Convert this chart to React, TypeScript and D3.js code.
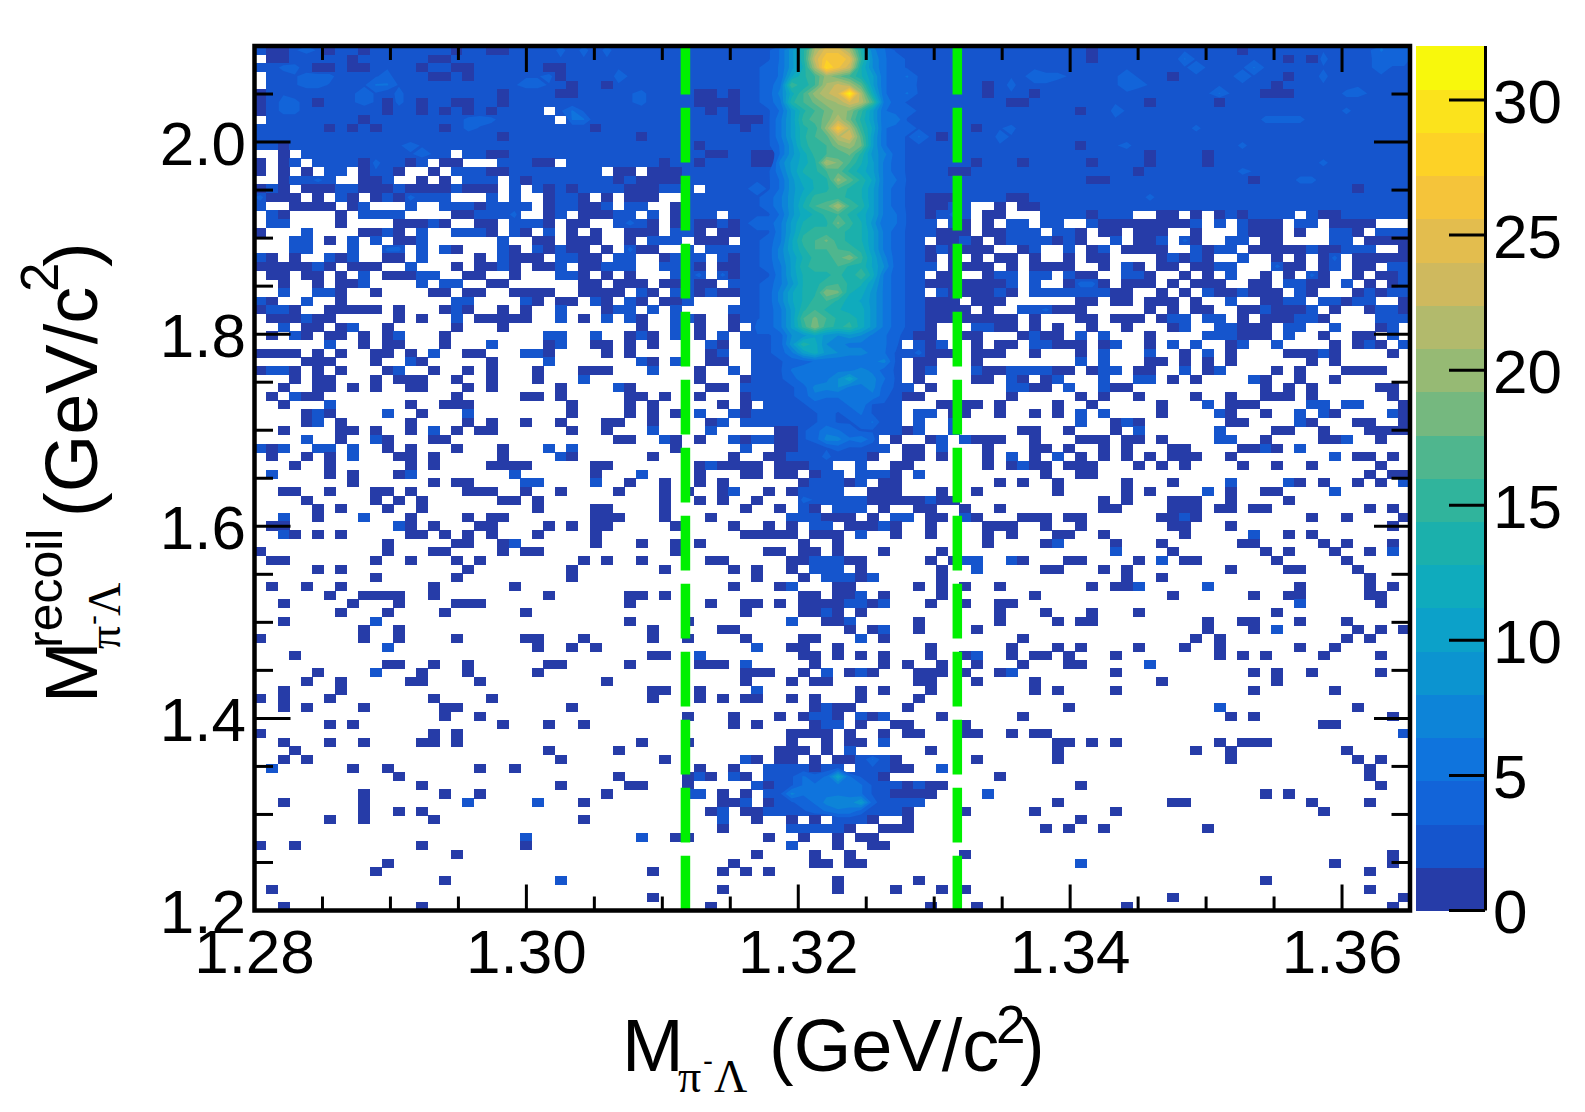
import React from 'react';
import * as d3 from 'd3';

const WIDTH = 1585;
const HEIGHT = 1112;
const BINS = 100;
const margin = { left: 254.5, right: 1410, top: 46, bottom: 910.5 };

const xDomain = [1.28, 1.365];
const yDomain = [1.2, 2.1];
const zMax = 32;
const xTickLabels = ['1.28', '1.30', '1.32', '1.34', '1.36'];
const yTickLabels = ['1.2', '1.4', '1.6', '1.8', '2.0'];
const zTickLabels = ['0', '5', '10', '15', '20', '25', '30'];
const cutLines = [1.3117, 1.3317];

// 20 palette bands of the colour bar, bottom to top
const bandColors = [
  '#263ca8', '#1555cd', '#1264d9', '#0f74dd', '#0d84d8', '#0c94d0', '#0ca1c9', '#0fabbd', '#1bb0ac', '#30b49c',
  '#4fb68e', '#75b87f', '#96ba74', '#b2ba6c', '#cfb95e', '#e3bd4e', '#f5c43a', '#fdd226', '#fbe31c', '#f8f80c',
];

// rows 0-31 from the top, columns 0-41 (bin counts, groups only for reading)
const leftRows = [
  '2113431231 2222222122 1122224242 4222 22222222',
  '0112223312 2222211222 2223223232 3222 22222222',
  '2244211211 2322132112 2222211222 2332 22222222',
  '0223444222 3422211212 2223341222 2432 22332223',
  '0233443223 5532222222 2234432122 1322 22223222',
  '1232222234 3242222222 2122221122 2234 22221121',
  '1244212234 3142122112 2122222222 2234 22221111',
  '1244222222 2122121212 1222203532 2222 22222121',
  '0222222221 2222222244 4222230552 2222 22222221',
  '2222221212 1222221243 2222222221 2222 22222222',
  '2322222222 2222222222 2122222222 2221 22332222',
  '2212222222 2234322222 2232222222 2332 22221222',
  '0010222222 2223432022 1122222222 2222 22222112',
  '1012022221 4221201100 0222110222 2222 21221222',
  '1010102201 3210010222 1122222222 0110 11122222',
  '0012242001 1200101022 2021222222 2121 11122222',
  '1210111221 1121111211 1020212122 2211 12220222',
  '4111010210 1214222000 2020012210 1011 10022222',
  '2001111012 0002002221 2222012211 2032 00122222',
  '0210000102 2220000112 2240012011 1220 20122202',
  '0220000100 0011121001 1022210110 0242 10121121',
  '1000200001 1210200222 1021020101 0011 10221011',
  '0002201020 2011200000 0200110111 0010 22201110',
  '0002200020 0440202100 0210312110 1041 10020222',
  '2101002120 0110200001 0211102211 0220 01222021',
  '1111131011 1002000101 1210112011 2220 02221011',
  '0110110102 0111220011 0010002210 1010 00224041',
  '0010010112 0000202200 1100000011 0111 01121102',
  '0020022100 1000011011 0011110011 1102 10221211',
  '2100200100 0000000220 0002101102 1021 01120000',
  '1221001111 1010001210 0101002000 1220 20200002',
  '0111311000 0010100301 1111002010 2021 00221001',
];

// rows 0-47, columns 42-58: the central band
const coreRows = [
  [3, 3, 3, 5, 9, 14, 21, 25, 25, 21, 14, 7, 5, 3, 3, 3, 3],
  [3, 3, 3, 5, 9, 14, 23, 27, 27, 25, 15, 8, 5, 4, 3, 3, 3],
  [3, 3, 4, 5, 9, 13, 21, 29, 26, 23, 13, 8, 5, 4, 3, 3, 3],
  [3, 3, 4, 5, 11, 14, 16, 20, 18, 16, 13, 10, 5, 4, 5, 3, 3],
  [3, 3, 4, 6, 16, 13, 16, 21, 23, 21, 17, 10, 5, 4, 4, 3, 3],
  [3, 3, 4, 7, 12, 16, 20, 22, 24, 31, 21, 12, 5, 4, 5, 3, 3],
  [3, 3, 4, 6, 14, 16, 18, 20, 21, 24, 22, 16, 6, 4, 3, 3, 3],
  [3, 3, 3, 5, 10, 14, 16, 18, 20, 19, 15, 10, 5, 4, 4, 3, 3],
  [1, 1, 3, 6, 10, 15, 17, 18, 22, 18, 14, 10, 5, 6, 3, 3, 3],
  [1, 2, 3, 6, 10, 14, 15, 20, 27, 22, 15, 11, 5, 4, 4, 3, 3],
  [3, 3, 3, 6, 10, 14, 16, 17, 22, 24, 17, 10, 5, 4, 3, 5, 3],
  [3, 3, 3, 5, 9, 14, 15, 16, 19, 20, 18, 10, 5, 4, 3, 3, 3],
  [2, 1, 1, 5, 9, 12, 15, 16, 16, 18, 14, 9, 7, 4, 3, 3, 3],
  [2, 1, 1, 7, 10, 12, 14, 21, 19, 16, 13, 10, 6, 4, 3, 3, 3],
  [2, 2, 3, 6, 10, 13, 14, 16, 17, 14, 12, 10, 6, 4, 3, 3, 2],
  [2, 3, 3, 5, 9, 12, 13, 14, 20, 17, 14, 11, 6, 5, 3, 3, 3],
  [3, 4, 3, 5, 9, 11, 13, 14, 16, 14, 13, 10, 6, 4, 3, 3, 2],
  [3, 3, 4, 6, 9, 12, 15, 15, 15, 14, 13, 10, 6, 4, 3, 3, 1],
  [2, 3, 4, 6, 9, 13, 16, 17, 21, 16, 14, 10, 6, 4, 3, 3, 1],
  [3, 3, 3, 5, 9, 12, 13, 15, 16, 14, 12, 10, 6, 5, 3, 3, 1],
  [3, 4, 4, 6, 10, 13, 14, 14, 18, 15, 13, 9, 5, 5, 3, 3, 2],
  [3, 3, 3, 6, 10, 14, 15, 15, 15, 14, 13, 10, 6, 4, 3, 3, 2],
  [3, 3, 4, 6, 11, 15, 16, 18, 15, 14, 13, 10, 6, 4, 3, 3, 0],
  [3, 3, 4, 7, 11, 14, 16, 16, 16, 15, 14, 10, 6, 4, 3, 3, 1],
  [2, 3, 4, 7, 10, 13, 15, 15, 17, 19, 15, 11, 7, 4, 3, 3, 1],
  [2, 3, 4, 6, 10, 14, 15, 15, 16, 14, 14, 11, 8, 4, 3, 3, 2],
  [2, 3, 3, 6, 10, 13, 14, 14, 15, 13, 16, 12, 6, 4, 3, 2, 0],
  [2, 3, 4, 6, 9, 13, 14, 15, 16, 14, 13, 10, 6, 4, 3, 2, 1],
  [3, 3, 4, 7, 11, 13, 14, 19, 18, 13, 12, 9, 6, 4, 3, 2, 0],
  [2, 3, 4, 7, 11, 13, 15, 16, 14, 12, 11, 9, 6, 4, 3, 2, 1],
  [2, 3, 4, 6, 10, 14, 16, 14, 13, 12, 12, 9, 6, 4, 3, 2, 1],
  [2, 3, 4, 6, 10, 16, 18, 16, 14, 14, 12, 9, 6, 4, 3, 2, 1],
  [0, 4, 4, 6, 10, 15, 19, 15, 14, 15, 12, 9, 6, 4, 3, 2, 1],
  [3, 3, 3, 4, 8, 9, 11, 9, 8, 9, 8, 6, 5, 4, 2, 1, 1],
  [3, 3, 3, 4, 9, 14, 12, 8, 7, 6, 6, 6, 5, 4, 0, 2, 1],
  [0, 2, 3, 4, 6, 10, 12, 9, 8, 7, 7, 6, 5, 3, 2, 4, 1],
  [0, 2, 2, 3, 4, 4, 5, 5, 5, 5, 5, 6, 7, 3, 0, 1, 1],
  [0, 2, 2, 3, 5, 6, 6, 6, 6, 6, 7, 6, 4, 3, 0, 1, 2],
  [1, 2, 2, 3, 4, 6, 5, 6, 8, 11, 7, 7, 5, 3, 0, 1, 0],
  [2, 2, 2, 3, 3, 4, 7, 7, 8, 6, 6, 7, 4, 3, 2, 0, 1],
  [1, 2, 2, 2, 3, 4, 6, 5, 5, 5, 5, 6, 4, 2, 1, 1, 0],
  [1, 0, 2, 2, 2, 3, 4, 4, 4, 5, 6, 3, 3, 2, 0, 0, 0],
  [1, 2, 2, 2, 2, 3, 3, 4, 3, 4, 5, 3, 2, 2, 0, 2, 2],
  [2, 2, 3, 2, 3, 3, 3, 4, 3, 3, 4, 5, 2, 2, 0, 2, 0],
  [0, 0, 0, 1, 1, 3, 4, 6, 5, 4, 3, 3, 2, 2, 1, 2, 0],
  [1, 2, 2, 1, 1, 3, 4, 7, 7, 5, 6, 4, 0, 1, 0, 0, 1],
  [2, 0, 0, 1, 1, 2, 2, 3, 4, 3, 3, 2, 2, 0, 1, 1, 0],
  [0, 0, 1, 1, 2, 2, 2, 4, 2, 2, 2, 1, 0, 0, 1, 1, 0],
];

// rows 0-31, columns 59-99
const rightRows = [
  '2 2232222333 2213223322 3322213222 2233223544',
  '2 2332332322 2212332222 5333333221 2142333444',
  '2 2322333322 2222332222 3433235332 2232333433',
  '2 2332333444 3222343321 3332343321 2242323333',
  '2 2231242332 2222344332 2333333212 2232233233',
  '2 2221332122 2222232233 2235322111 2222443223',
  '2 2232311222 2222332122 2221222232 3222222333',
  '2 2223322222 2122432332 2222222222 2222422333',
  '2 2322322222 3222322222 2222222444 4222232233',
  '2 2212342222 2222222222 2422233222 2222332222',
  '1 2222432222 2222223322 2222222222 2333322222',
  '2 2223322333 2132342222 2232242232 2233222222',
  '2 2222332232 2232322122 2212222222 2222222222',
  '2 2212231222 2212222122 3213222222 2242223322',
  '2 1122222222 2222221222 2222243222 2222222222',
  '2 2222322222 2211322222 2222221222 4422222222',
  '2 2222222222 2222222222 2222222222 2222212222',
  '1 1222211222 2222222422 2222222222 2222223222',
  '1 2200101122 2222222222 2222222222 2222322222',
  '2 4301100022 2212220011 0101212222 0211222222',
  '0 2101022022 0021111111 1202021110 2201111000',
  '1 1101122202 2101101110 0100021110 1002210222',
  '1 1210122221 2100201130 4100220110 0002201111',
  '2 1111001200 2012011110 0212201111 1211232001',
  '0 1010110100 1011000012 1210020010 1014011111',
  '0 1111010111 1001021011 0113200041 1012011022',
  '1 1001220220 2110022100 1010200101 0410010112',
  '1 1111120200 1441011101 0111001102 2110201012',
  '2 1111210222 2222110010 1021121110 2100012122',
  '1 1011100000 0110110111 0100200112 2022122001',
  '1 1101002241 1100000101 0110011211 1201001221',
  '1 1111110100 0110111012 2022010111 2210000222',
];

// rows 32-99: columns holding one entry
const singles = [
  [4, 5, 7, 11, 17, 21, 33, 38, 41, 64, 65, 67, 69, 72, 75, 79, 85, 86, 87, 97],
  [1, 4, 6, 7, 9, 11, 16, 32, 34, 38, 61, 62, 66, 68, 69, 77, 85, 86, 87, 92, 95, 96],
  [9, 11, 12, 16, 25, 29, 30, 32, 34, 40, 62, 64, 65, 69, 70, 71, 73, 77, 84, 93, 95, 97],
  [0, 1, 2, 3, 5, 7, 10, 11, 13, 18, 19, 25, 30, 32, 39, 59, 60, 62, 63, 64, 67, 71, 80, 84, 89, 90, 91, 93, 98],
  [4, 5, 6, 10, 14, 20, 34, 39, 40, 62, 77, 78, 80, 82, 84, 91, 93],
  [0, 3, 5, 7, 11, 15, 18, 20, 24, 28, 29, 30, 38, 63, 64, 69, 70, 72, 76, 77, 82, 88, 90, 94, 95, 96, 97],
  [3, 5, 6, 10, 12, 13, 14, 17, 20, 24, 38, 62, 63, 66, 68, 79, 81, 87, 90, 93],
  [2, 5, 6, 8, 10, 13, 14, 18, 20, 26, 32, 39, 40, 67, 68, 74, 75, 87, 89, 91, 97, 98],
  [1, 4, 5, 17, 23, 24, 26, 32, 33, 35, 38, 65, 71, 73, 76, 81, 84, 87, 88, 89, 91, 98],
  [2, 13, 16, 17, 18, 27, 32, 34, 40, 59, 60, 61, 62, 64, 69, 72, 78, 84, 85, 86, 99],
  [4, 6, 14, 27, 32, 34, 36, 60, 61, 64, 67, 69, 78, 84, 87, 93, 99],
  [4, 7, 13, 18, 20, 23, 26, 30, 31, 34, 39, 74, 76, 84, 85, 91, 95, 96, 99],
  [2, 7, 8, 10, 13, 17, 19, 20, 27, 30, 66, 67, 70, 74, 88, 89, 92, 96, 97, 98, 99],
  [7, 11, 15, 16, 31, 32, 36, 38, 62, 63, 64, 67, 71, 72, 73, 75, 76, 78, 87, 92, 93, 97],
  [1, 11, 13, 17, 21, 36, 63, 67, 68, 70, 73, 75, 79, 80, 85, 86, 88],
  [1, 4, 6, 12, 13, 15, 21, 27, 34, 41, 59, 63, 67, 71, 73, 75, 77, 79, 80, 81, 84, 95, 96, 98],
  [3, 6, 13, 15, 20, 21, 22, 23, 29, 30, 38, 40, 41, 42, 43, 45, 46, 47, 55, 56, 63, 65, 67, 68, 70, 71, 72, 76, 78, 80, 85, 88, 91, 97],
  [6, 8, 12, 29, 38, 42, 43, 45, 46, 48, 55, 68, 71, 72, 96, 98, 99],
  [8, 15, 17, 18, 32, 35, 38, 40, 47, 51, 54, 55, 64, 66, 69, 75, 79, 90, 92, 95, 97],
  [2, 3, 6, 10, 11, 13, 18, 19, 20, 23, 26, 31, 35, 37, 40, 44, 46, 53, 54, 55, 59, 62, 69, 75, 77, 84, 87, 88],
  [4, 10, 12, 14, 21, 22, 24, 35, 38, 40, 43, 53, 54, 55, 56, 57, 59, 60, 73, 75, 79, 80, 81, 84, 89],
  [5, 7, 11, 14, 24, 29, 30, 35, 42, 45, 48, 54, 57, 58, 61, 64, 73, 74, 79, 80, 81, 83, 84, 86, 87, 96, 98],
  [5, 13, 18, 20, 21, 29, 30, 31, 35, 39, 49, 50, 51, 53, 58, 59, 62, 66, 67, 68, 70, 71, 78, 79, 81, 91, 94, 99],
  [1, 2, 13, 15, 19, 20, 25, 27, 29, 30, 36, 41, 44, 46, 51, 52, 53, 55, 58, 63, 64, 65, 68, 71, 79, 80, 84, 98],
  [3, 5, 7, 13, 14, 16, 18, 20, 24, 29, 42, 43, 44, 45, 46, 48, 49, 50, 55, 58, 63, 65, 69, 70, 73, 80, 89, 91],
  [11, 17, 18, 21, 29, 33, 36, 38, 47, 50, 63, 68, 74, 78, 85, 86, 92, 94, 98],
  [0, 11, 15, 16, 21, 23, 24, 36, 44, 45, 47, 48, 50, 54, 59, 79, 87, 89, 93, 96],
  [1, 2, 10, 13, 17, 19, 28, 30, 33, 39, 40, 46, 47, 51, 52, 58, 60, 66, 70, 71, 76, 80, 81, 88, 94],
  [5, 7, 18, 27, 35, 41, 43, 46, 52, 59, 68, 69, 73, 75, 84, 89, 90, 95],
  [10, 17, 27, 43, 47, 52, 59, 75, 78, 96],
  [1, 4, 7, 15, 22, 41, 45, 50, 51, 57, 59, 61, 64, 72, 74, 75, 90, 96, 98],
  [6, 9, 10, 11, 12, 15, 25, 32, 33, 35, 47, 48, 50, 51, 54, 59, 67, 79, 86, 89, 90, 96, 97],
  [2, 8, 12, 17, 18, 19, 32, 39, 42, 43, 45, 47, 48, 49, 50, 53, 58, 61, 64, 65, 97],
  [7, 11, 16, 23, 42, 47, 48, 50, 52, 64, 68, 72, 76, 88],
  [2, 32, 37, 49, 50, 57, 64, 69, 71, 72, 82, 85, 86, 90, 94],
  [9, 12, 34, 40, 41, 51, 53, 57, 62, 82, 86, 95, 97, 99],
  [0, 9, 12, 17, 23, 24, 28, 34, 37, 42, 47, 48, 54, 66, 81, 83, 94, 96],
  [24, 27, 29, 46, 47, 50, 58, 65, 69, 71, 76, 80, 83, 90, 93],
  [3, 34, 35, 47, 48, 50, 52, 54, 58, 61, 65, 67, 68, 70, 74, 83, 85, 87, 92, 97],
  [11, 12, 15, 18, 25, 26, 32, 38, 39, 40, 48, 54, 56, 59, 62, 66, 70, 71],
  [5, 14, 18, 24, 42, 43, 44, 47, 51, 53, 57, 58, 59, 61, 64, 74, 86, 88, 91, 97],
  [4, 7, 13, 14, 19, 30, 42, 46, 48, 49, 57, 58, 62, 67, 78, 88],
  [2, 7, 34, 35, 38, 52, 54, 58, 67, 69, 74, 86, 93],
  [0, 2, 6, 15, 20, 34, 38, 40, 42, 43, 46, 48, 52, 57],
  [2, 4, 9, 16, 17, 27, 48, 50, 51, 56, 70, 95],
  [16, 19, 37, 41, 45, 47, 50, 53, 59, 66, 84, 86, 98],
  [6, 8, 21, 25, 28, 41, 43, 48, 52, 55, 56, 61, 92, 93],
  [0, 15, 17, 46, 47, 48, 49, 51, 54, 56, 57, 61, 62, 65, 67, 68],
  [2, 6, 9, 14, 15, 17, 33, 37, 46, 49, 51, 52, 69, 70, 72, 74, 83, 85, 86, 87],
  [3, 25, 31, 45, 46, 47, 49, 58, 69, 81, 84, 94],
  [2, 4, 26, 35, 43, 62, 69, 84, 95, 97],
  [8, 11, 19, 22, 38, 41, 96],
  [12, 31, 37, 39, 42, 64, 96],
  [14, 26, 32, 33, 37, 58, 59, 71, 97],
  [9, 16, 19, 30, 40, 42, 87, 89],
  [2, 9, 28, 40, 41, 69, 79, 80, 91, 96],
  [9, 12, 14, 39, 42, 43, 61, 67, 74, 92],
  [6, 9, 15, 28, 43, 46, 48, 56, 71],
  [40, 68, 70, 73, 82],
  [36, 37, 44, 47, 50, 52, 53],
  [0, 3, 14, 23, 50, 53, 54],
  [17, 43, 48, 51, 61, 98],
  [11, 41, 48, 49, 51, 52, 93, 98],
  [10, 34, 40, 42, 44, 96],
  [16, 50, 57, 87],
  [1, 40, 50, 55, 59, 61, 96],
  [34, 79, 99],
  [2, 14, 39, 58, 62, 75, 98],
];

// rows 32-99: columns holding two entries
const doubles = [
  [2, 8, 36, 62, 63, 80, 83, 84, 89, 90, 93, 98],
  [3, 12, 25, 26, 29, 33, 36, 40, 67, 71, 73, 82, 83, 84, 89, 98],
  [6, 20, 26, 39, 59, 67, 68, 74, 79, 81, 85, 88, 96, 99],
  [15, 23, 24, 40, 73, 77, 82, 92],
  [13, 25, 33, 36, 71, 73],
  [1, 2, 12, 34, 41, 62, 65, 66, 67, 68, 73, 74, 80, 83],
  [28, 65, 69, 73, 76, 77, 86],
  [31, 65, 66, 70, 73],
  [3],
  [6, 82, 91, 92, 94, 95],
  [5, 11, 41, 71, 73, 83, 90, 92, 98],
  [5, 40, 60, 71, 75, 90],
  [15, 34, 39, 60, 76, 83],
  [4, 10, 35, 41, 59, 61, 83, 84, 94],
  [0, 2, 5, 6, 8, 25, 27, 59, 87, 90],
  [8, 26, 65, 69, 93],
  [39, 48, 49, 52, 66],
  [1, 13, 22, 33, 49, 50, 52, 53, 54, 57],
  [23, 24, 29, 48, 52, 84, 89, 99],
  [41, 47, 50, 82, 93],
  [50, 51, 52, 58],
  [47, 50, 51, 52],
  [2, 9, 46, 47, 48, 55, 56, 61, 80],
  [12, 48, 49, 54],
  [2, 52, 86],
  [22, 69],
  [74, 98],
  [48, 50, 61, 62, 65, 78],
  [48, 49, 50, 62],
  [49, 50, 51],
  [46, 76, 82],
  [52],
  [51, 52, 54, 90],
  [49],
  [10, 46, 51],
  [54, 88],
  [52],
  [11, 43],
  [38, 62],
  [42, 77],
  [10, 49, 52, 65],
  [],
  [43],
  [],
  [49, 83],
  [48, 49, 52, 54],
  [49, 50],
  [99],
  [54],
  [51],
  [42],
  [1, 59],
  [38, 41],
  [43],
  [37, 38, 63],
  [18, 24, 42],
  [40],
  [40],
  [],
  [23, 33],
  [46],
  [],
  [71],
  [],
  [26],
  [],
  [],
  [],
];

// cells above two outside the band: row, column, count
const peaks = [
  [42, 18, 3], [42, 38, 3], [50, 49, 3], [50, 50, 3], [51, 48, 3], [51, 49, 3], [52, 47, 4], [52, 48, 3],
  [52, 49, 3], [59, 49, 3], [61, 53, 3], [85, 57, 3],
];

// rows 82-90, columns 44-59: the lower blob
const blobRows = [
  [0, 1, 1, 0, 1, 0, 1, 1, 2, 5, 2, 1, 0, 0],
  [2, 2, 2, 2, 1, 2, 3, 0, 3, 3, 2, 1, 1, 0],
  [2, 2, 3, 5, 4, 5, 11, 5, 3, 3, 1, 0, 0, 0],
  [1, 2, 3, 5, 5, 5, 6, 6, 5, 3, 2, 2, 1, 3],
  [2, 3, 7, 5, 5, 6, 6, 6, 5, 3, 2, 1, 1, 1, 1],
  [1, 2, 3, 4, 5, 7, 8, 7, 10, 4, 2, 2, 2, 2],
  [2, 2, 2, 3, 4, 5, 6, 6, 4, 2, 2, 2, 1],
  [0, 0, 1, 0, 1, 0, 2, 2, 2, 1, 0, 0, 1],
  [0, 0, 2, 2, 2, 2, 2, 1, 0, 0, 1, 1, 1],
];

const buildCounts = () => {
  const grid: number[][] = d3.range(BINS).map(() => new Array(BINS).fill(0));
  const clean = (s: string) => s.replace(/ /g, '').split('').map(Number);
  leftRows.forEach((s, r) => clean(s).forEach((v, i) => { if (i < 42) grid[r][i] = v; }));
  rightRows.forEach((s, r) => clean(s).forEach((v, i) => { if (59 + i < BINS) grid[r][59 + i] = v; }));
  singles.forEach((cols, i) => cols.forEach(c => { grid[32 + i][c] = 1; }));
  doubles.forEach((cols, i) => cols.forEach(c => { grid[32 + i][c] = 2; }));
  peaks.forEach(([r, c, v]) => { grid[r][c] = v; });
  coreRows.forEach((vals, r) => vals.forEach((v, i) => { grid[r][42 + i] = v; }));
  blobRows.forEach((vals, r) => vals.forEach((v, i) => { grid[82 + r][44 + i] = v; }));
  return grid;
};

const App: React.FC = () => {
  const x = d3.scaleLinear().domain(xDomain).range([margin.left, margin.right]);
  const y = d3.scaleLinear().domain(yDomain).range([margin.bottom, margin.top]);
  const z = d3.scaleLinear().domain([0, zMax]).range([margin.bottom, margin.top]);
  const colBand = d3.scaleBand<number>().domain(d3.range(BINS)).range([margin.left, margin.right]);
  const rowBand = d3.scaleBand<number>().domain(d3.range(BINS)).range([margin.top, margin.bottom]);
  const bandOf = d3.scaleQuantize<string>().domain([0, zMax]).range(bandColors);

  const grid = buildCounts();
  const cells = grid.flatMap((row, r) => row.map((v, c) => ({ r, c, v }))).filter(d => d.v > 0);

  // everything above the second band is drawn as filled iso-levels, as the original's contour style
  const levels = d3.range(2, bandColors.length).map(k => (k * zMax) / bandColors.length);
  const contourSets = d3.contours().size([BINS, BINS]).thresholds(levels)(grid.flat());
  const toPixels = d3.geoTransform({
    point(px: number, py: number) {
      this.stream.point(margin.left + (px * colBand.bandwidth()), margin.top + (py * rowBand.bandwidth()));
    },
  });
  const contourPath = d3.geoPath(toPixels);

  const xMinor = d3.range(0, 18).map(i => 1.28 + i * 0.005);
  const yMinor = d3.range(0, 19).map(i => 1.2 + i * 0.05);
  const font = '"Liberation Sans", Arial, sans-serif';
  const symbolFont = '"Liberation Serif", "Times New Roman", serif';

  return (
    <svg
      width={WIDTH}
      height={HEIGHT}
      viewBox={`0 0 ${WIDTH} ${HEIGHT}`}
      style={{ position: 'absolute', left: 0, top: 0, display: 'block', background: '#fff' }}
    >
      <defs>
        <clipPath id="plot-area">
          <rect x={margin.left} y={margin.top} width={margin.right - margin.left} height={margin.bottom - margin.top} />
        </clipPath>
      </defs>

      <g clipPath="url(#plot-area)">
        <g shapeRendering="crispEdges">
          {cells.map(d => (
            <rect
              key={`${d.r}-${d.c}`}
              x={colBand(d.c)}
              y={rowBand(d.r)}
              width={colBand.bandwidth() + 0.4}
              height={rowBand.bandwidth() + 0.4}
              fill={bandColors[d.v >= 2 ? 1 : 0]}
            />
          ))}
        </g>
        {contourSets.map(c => (
          <path key={c.value} d={contourPath(c) || ''} fill={bandOf(c.value + 0.01)} />
        ))}
      </g>

      {/* cut lines */}
      {cutLines.map(v => (
        <line
          key={v}
          x1={x(v)}
          x2={x(v)}
          y1={margin.bottom}
          y2={margin.top}
          stroke="#00f000"
          strokeWidth={9.5}
          strokeDasharray="54.7 13.3"
        />
      ))}

      {/* ticks */}
      <g stroke="#000" strokeWidth={3}>
        {xMinor.map(v => {
          const isMajor = Math.round((v - 1.28) / 0.005) % 4 === 0;
          const len = isMajor ? 26 : 14;
          return (
            <g key={v}>
              <line x1={x(v)} x2={x(v)} y1={margin.bottom} y2={margin.bottom - len} />
              <line x1={x(v)} x2={x(v)} y1={margin.top} y2={margin.top + len} />
            </g>
          );
        })}
        {yMinor.map(v => {
          const isMajor = Math.round((v - 1.2) / 0.05) % 4 === 0;
          const len = isMajor ? 36 : 18.5;
          return (
            <g key={v}>
              <line x1={margin.left} x2={margin.left + len} y1={y(v)} y2={y(v)} />
              <line x1={margin.right} x2={margin.right - len} y1={y(v)} y2={y(v)} />
            </g>
          );
        })}
      </g>

      <rect
        x={margin.left}
        y={margin.top}
        width={margin.right - margin.left}
        height={margin.bottom - margin.top}
        fill="none"
        stroke="#000"
        strokeWidth={4.5}
      />

      {/* colour bar */}
      <g shapeRendering="crispEdges">
        {bandColors.map((color, i) => (
          <rect
            key={color}
            x={1416}
            y={z(((i + 1) * zMax) / bandColors.length)}
            width={68}
            height={z(0) - z(zMax / bandColors.length) + 0.5}
            fill={color}
          />
        ))}
      </g>
      <line x1={1485.5} x2={1485.5} y1={margin.top} y2={margin.bottom} stroke="#000" strokeWidth={3} />
      {zTickLabels.map(label => (
        <g key={label}>
          <line x1={1449} x2={1485} y1={z(+label)} y2={z(+label)} stroke="#000" strokeWidth={3} />
          <text x={1493} y={z(+label) + 22.5} fontFamily={font} fontSize={62}>
            {label}
          </text>
        </g>
      ))}

      {/* tick labels */}
      {xTickLabels.map(label => (
        <text key={label} x={x(+label)} y={973} textAnchor="middle" fontFamily={font} fontSize={62}>
          {label}
        </text>
      ))}
      {yTickLabels.map(label => (
        <text key={label} x={246} y={y(+label) + 22.5} textAnchor="end" fontFamily={font} fontSize={62}>
          {label}
        </text>
      ))}

      {/* x title */}
      <g fontFamily={font}>
        <text x={622} y={1071} fontSize={74}>M</text>
        <text x={678} y={1092} fontSize={46} fontFamily={symbolFont}>π</text>
        <text x={703} y={1071} fontSize={30}>-</text>
        <text x={714} y={1092} fontSize={46} fontFamily={symbolFont}>Λ</text>
        <text x={769} y={1071} fontSize={74}>(GeV/c</text>
        <text x={996} y={1043} fontSize={53}>2</text>
        <text x={1020} y={1071} fontSize={74}>)</text>
      </g>

      {/* y title */}
      <g fontFamily={font} transform="translate(97,0) rotate(-90)">
        <text x={-703} y={0} fontSize={74}>M</text>
        <text x={-648} y={-35} fontSize={50}>recoil</text>
        <text x={-649} y={23} fontSize={46} fontFamily={symbolFont}>π</text>
        <text x={-625} y={6} fontSize={30}>-</text>
        <text x={-616} y={23} fontSize={46} fontFamily={symbolFont}>Λ</text>
        <text x={-517} y={0} fontSize={74}>(GeV/c</text>
        <text x={-292} y={-39} fontSize={53}>2</text>
        <text x={-267} y={0} fontSize={74}>)</text>
      </g>
    </svg>
  );
};

export default App;
